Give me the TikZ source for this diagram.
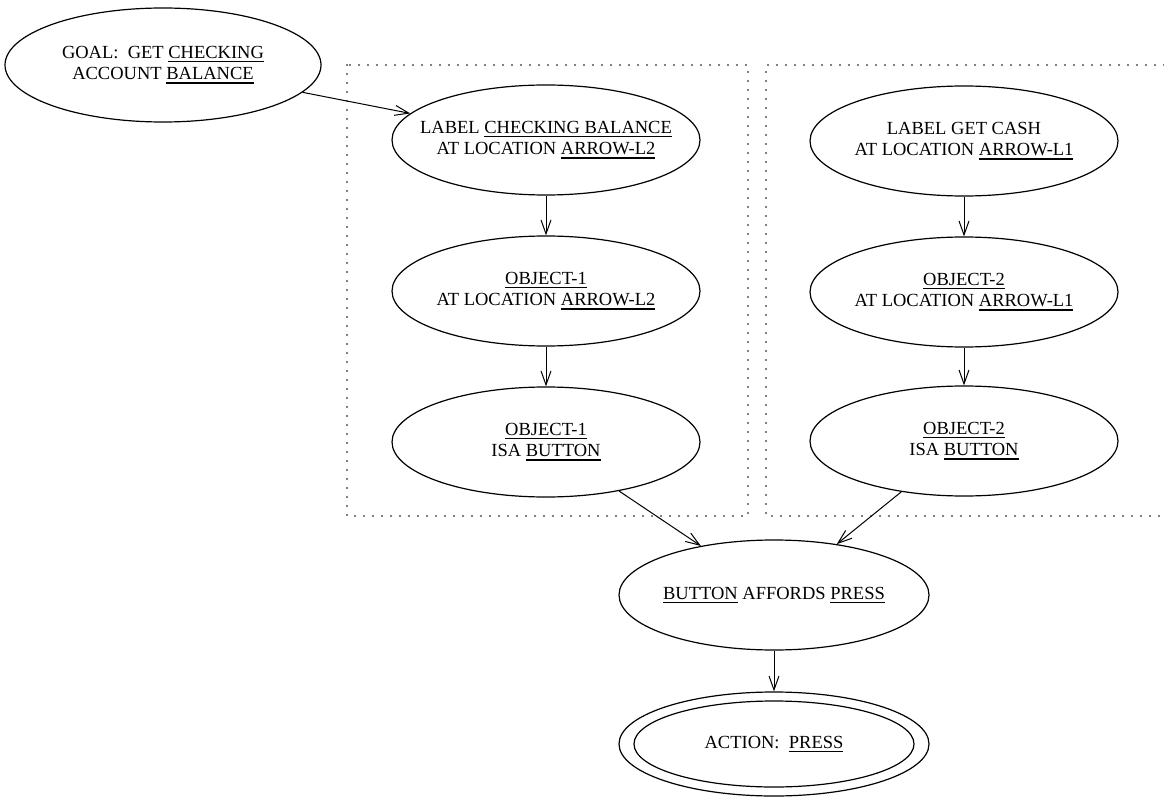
\documentclass[tikz,border=0pt]{standalone}
\usepackage{fontspec}
\setmainfont{Liberation Serif}
\usetikzlibrary{shapes.geometric,arrows.meta}
\newcommand\ulw[1]{\setbox0=\hbox{#1}\rlap{\raisebox{-4pt}{\rule{\wd0}{1.6pt}}}\box0\relax}
\begin{document}
\begin{tikzpicture}[x=1pt,y=-1pt,
  oval/.style={draw, ellipse, line width=1.2pt, inner sep=0pt, minimum width=308pt, minimum height=110pt},
  txt/.style={align=center, inner sep=0pt, font=\fontsize{18.5}{21.5}\selectfont},
  conn/.style={line width=1pt, -{Straight Barb[length=14pt,width=10pt]}},
  dotline/.style={line width=1.7pt, dash pattern=on 0pt off 9pt, line cap=round}]
\useasboundingbox (0,0) rectangle (1164,802);
% dotted groups
\draw[dotline] (347,65) rectangle (748,516);
\draw[dotline] (1164,65) -- (766,65) -- (766,516) -- (1164,516);
% goal
\node[oval, minimum width=316pt, minimum height=114pt] (g) at (163,65) {};
\node[txt] (gt) at (g) {GOAL:\ \ GET \ulw{CHECKING}\\ACCOUNT \ulw{BALANCE}};
% left column
\node[oval] (a) at (546,140) {};
\node[txt] (at) at (a) {LABEL \ulw{CHECKING BALANCE}\\AT LOCATION \ulw{ARROW-L2}};
\node[oval] (b) at (546,291) {};
\node[txt] (bt) at (b) {\ulw{OBJECT-1}\\AT LOCATION \ulw{ARROW-L2}};
\node[oval] (c) at (546,442) {};
\node[txt] (ct) at (c) {\ulw{OBJECT-1}\\ISA \ulw{BUTTON}};
% right column
\node[oval] (d) at (964,141) {};
\node[txt] (dt) at (d) {LABEL GET CASH\\AT LOCATION \ulw{ARROW-L1}};
\node[oval] (e) at (964,292) {};
\node[txt] (et) at (e) {\ulw{OBJECT-2}\\AT LOCATION \ulw{ARROW-L1}};
\node[oval] (f) at (964,441) {};
\node[txt] (ft) at (f) {\ulw{OBJECT-2}\\ISA \ulw{BUTTON}};
% bottom
\node[oval, minimum width=310pt] (h) at (774,595) {};
\node[txt] (ht) at (h) {\ulw{BUTTON} AFFORDS \ulw{PRESS}};
\node[oval, minimum width=310pt, minimum height=104pt] (i) at (774,744) {};
\node[oval, minimum width=280pt, minimum height=86pt] (i2) at (i) {};
\node[txt] (it) at (i) {ACTION:\ \ \ulw{PRESS}};
% connectors
\draw[conn] (g) -- (a);
\draw[conn] (a) -- (b);
\draw[conn] (b) -- (c);
\draw[conn] (d) -- (e);
\draw[conn] (e) -- (f);
\draw[conn] (c) -- (h);
\draw[conn] (f) -- (h);
\draw[conn] (h) -- (i);
\end{tikzpicture}
\end{document}
